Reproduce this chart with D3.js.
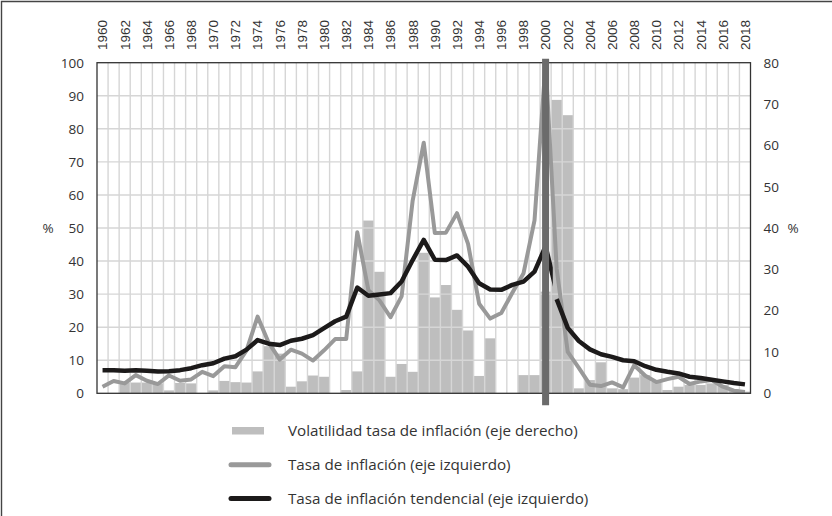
<!DOCTYPE html>
<html>
<head>
<meta charset="utf-8">
<script src="https://cdn.jsdelivr.net/npm/d3@7"></script>
<style>
  body { margin: 0; background: #fff; }
  svg { display: block; }
</style>
</head>
<body>
<svg id="chart"></svg>
<script>
// data
const years = d3.range(1960, 2019);
const yearLabels = years.filter(y => y % 2 === 0);

// tasa de inflación (eje izquierdo, %)
const inflation = [
  2.0, 3.7, 3.0, 5.5, 3.8, 2.8, 5.4, 3.8, 4.2, 6.5,
  5.2, 8.2, 7.9, 13.0, 23.2, 15.3, 10.2, 13.2, 12.0, 9.9,
  13.0, 16.4, 16.4, 48.7, 31.2, 28.1, 23.0, 29.3, 58.3, 75.8,
  48.5, 48.6, 54.5, 45.2, 27.1, 22.6, 24.3, 30.4, 36.2, 52.3,
  100, 37.7, 12.5, 7.7, 2.6, 2.2, 3.3, 1.8, 8.5, 5.3,
  3.4, 4.3, 5.0, 2.8, 3.6, 4.0, 2.0, 0.8, 0.4
];

// tasa de inflación tendencial: two pieces, before and after dollarisation
const trendYearsA = d3.range(1960, 2002);
const trendA = [
  7.0, 7.0, 6.8, 7.0, 6.8, 6.6, 6.7, 7.0, 7.6, 8.5,
  9.1, 10.5, 11.2, 13.2, 16.1, 15.0, 14.6, 15.9, 16.5, 17.6,
  19.7, 21.8, 23.2, 32.0, 29.5, 29.9, 30.3, 33.8, 40.3, 46.4,
  40.4, 40.3, 41.7, 38.3, 33.3, 31.4, 31.3, 32.8, 33.8, 36.8,
  44.5, 30.5
];
const trendYearsB = d3.range(2001, 2019);
const trendB = [
  28.5, 19.8, 15.8, 13.3, 11.8, 11.0, 10.0, 9.7, 8.2, 7.1,
  6.5, 6.0, 5.0, 4.6, 4.1, 3.6, 3.1, 2.7
];

// volatilidad tasa de inflación (eje derecho)
const volatility = [
  0, 0, 2.6, 2.6, 2.6, 2.4, 0.7, 2.5, 2.4, 0,
  0.7, 3.0, 2.7, 2.6, 5.3, 11.4, 9.6, 1.6, 2.9, 4.3,
  4.0, 0, 0.8, 5.3, 41.8, 29.4, 4.0, 7.1, 5.2, 34.0,
  23.2, 26.2, 20.2, 15.2, 4.2, 13.3, 0, 0, 4.4, 4.4,
  24.6, 71.0, 67.3, 1.2, 3.2, 7.5, 1.2, 1.0, 3.8, 4.4,
  2.8, 0.8, 1.6, 2.0, 2.0, 2.4, 2.0, 1.0, 0.4
];

const leftTicks = d3.range(0, 101, 10);
const rightTicks = d3.range(0, 81, 10);
const breakYear = 2000;

const legendItems = [
  { label: 'Volatilidad tasa de inflación (eje derecho)', type: 'bar' },
  { label: 'Tasa de inflación (eje izquierdo)', type: 'grey' },
  { label: 'Tasa de inflación tendencial (eje izquierdo)', type: 'black' }
];

const width = 832;
const height = 516;
const plot = { left: 97, right: 750.5, top: 62.7, bottom: 393.3 };
const numFont = '"Open Sans", "Noto Sans", sans-serif';
const yearFont = '"Liberation Sans", Arial, sans-serif';
const barColor = '#bebebe';
const greyColor = '#999999';
const blackColor = '#1c1a1a';

const svg = d3.select('#chart')
  .attr('width', width)
  .attr('height', height);

// outer frame (top and left edge only)
svg.append('path')
  .attr('d', `M1.5,${height} V1.5 H${width}`)
  .attr('fill', 'none')
  .attr('stroke', '#444')
  .attr('stroke-width', 1.4);

const x = d3.scaleBand()
  .domain(years)
  .range([plot.left, plot.right])
  .padding(0);
const xc = yr => x(yr) + x.bandwidth() / 2;

const yLeft = d3.scaleLinear().domain([0, 100]).range([plot.bottom, plot.top]);
const yRight = d3.scaleLinear().domain([0, 80]).range([plot.bottom, plot.top]);

// bars
svg.append('g')
  .selectAll('rect')
  .data(years.map((yr, i) => ({ yr, v: volatility[i] })))
  .join('rect')
  .attr('x', d => x(d.yr))
  .attr('width', x.bandwidth())
  .attr('y', d => yRight(d.v))
  .attr('height', d => yRight(0) - yRight(d.v))
  .attr('fill', barColor);

// grid drawn over the bars
const grid = svg.append('g')
  .attr('stroke', '#d6d6d6')
  .attr('stroke-width', 1.4);
grid.selectAll('line.v')
  .data(years.slice(1))
  .join('line')
  .attr('class', 'v')
  .attr('x1', d => x(d)).attr('x2', d => x(d))
  .attr('y1', plot.top).attr('y2', plot.bottom);
grid.selectAll('line.h')
  .data(leftTicks.slice(1, -1))
  .join('line')
  .attr('class', 'h')
  .attr('x1', plot.left).attr('x2', plot.right)
  .attr('y1', d => yLeft(d)).attr('y2', d => yLeft(d));

// clip for the first trend piece so it stops short of 2001
const clipEdge = xc(2001) - x.bandwidth() * 0.35;
svg.append('clipPath')
  .attr('id', 'clipA')
  .append('rect')
  .attr('x', 0).attr('y', 0)
  .attr('width', clipEdge)
  .attr('height', height);

const line = d3.line()
  .x(d => xc(d[0]))
  .y(d => yLeft(d[1]));

svg.append('path')
  .datum(d3.zip(years, inflation))
  .attr('d', line)
  .attr('fill', 'none')
  .attr('stroke', greyColor)
  .attr('stroke-width', 4)
  .attr('stroke-linejoin', 'round');

svg.append('path')
  .datum(d3.zip(trendYearsA, trendA))
  .attr('d', line)
  .attr('clip-path', 'url(#clipA)')
  .attr('fill', 'none')
  .attr('stroke', blackColor)
  .attr('stroke-width', 4.5)
  .attr('stroke-linejoin', 'round');

svg.append('path')
  .datum(d3.zip(trendYearsB, trendB))
  .attr('d', line)
  .attr('fill', 'none')
  .attr('stroke', blackColor)
  .attr('stroke-width', 4.5)
  .attr('stroke-linejoin', 'round');

// plot border
svg.append('rect')
  .attr('x', plot.left).attr('y', plot.top)
  .attr('width', plot.right - plot.left)
  .attr('height', plot.bottom - plot.top)
  .attr('fill', 'none')
  .attr('stroke', '#333')
  .attr('stroke-width', 1.3);

// vertical marker at 2000
svg.append('line')
  .attr('x1', xc(breakYear)).attr('x2', xc(breakYear))
  .attr('y1', plot.top - 4).attr('y2', plot.bottom + 12)
  .attr('stroke', '#6b6b6b')
  .attr('stroke-width', 7);

// top axis: rotated year labels
svg.append('g')
  .selectAll('text')
  .data(yearLabels)
  .join('text')
  .attr('transform', d => `translate(${xc(d)},50) rotate(-90)`)
  .attr('dy', '0.36em')
  .attr('font-family', yearFont)
  .attr('font-size', 13.5)
  .attr('fill', '#333')
  .text(d => d);

// left axis
const axisL = d3.axisLeft(yLeft).tickValues(leftTicks).tickSize(0).tickPadding(13);
const gL = svg.append('g')
  .attr('transform', `translate(${plot.left},0)`)
  .call(axisL);
gL.select('.domain').remove();
gL.selectAll('text')
  .attr('font-family', numFont)
  .attr('font-size', 13.5)
  .attr('fill', '#333');

// right axis
const axisR = d3.axisRight(yRight).tickValues(rightTicks).tickSize(0).tickPadding(13);
const gR = svg.append('g')
  .attr('transform', `translate(${plot.right},0)`)
  .call(axisR);
gR.select('.domain').remove();
gR.selectAll('text')
  .attr('font-family', numFont)
  .attr('font-size', 13.5)
  .attr('fill', '#333');

// % unit labels
svg.append('text')
  .attr('x', 48).attr('y', yLeft(50)).attr('dy', '0.35em')
  .attr('text-anchor', 'middle')
  .attr('font-family', numFont).attr('font-size', 13.5).attr('fill', '#333')
  .text('%');
svg.append('text')
  .attr('x', 793).attr('y', yRight(40)).attr('dy', '0.35em')
  .attr('text-anchor', 'middle')
  .attr('font-family', numFont).attr('font-size', 13.5).attr('fill', '#333')
  .text('%');

// legend
const legend = svg.append('g').attr('transform', 'translate(231,431)');
const item = legend.selectAll('g')
  .data(legendItems)
  .join('g')
  .attr('transform', (d, i) => `translate(0,${i * 33.7})`);
item.filter(d => d.type === 'bar').append('rect')
  .attr('x', 1).attr('y', -4).attr('width', 32).attr('height', 7.5)
  .attr('fill', barColor);
item.filter(d => d.type !== 'bar').append('line')
  .attr('x1', 0).attr('x2', 38)
  .attr('stroke', d => d.type === 'grey' ? greyColor : blackColor)
  .attr('stroke-width', 5)
  .attr('stroke-linecap', 'round');
item.append('text')
  .attr('x', 57).attr('dy', '0.35em')
  .attr('font-family', numFont)
  .attr('font-size', 15.2)
  .attr('fill', '#333')
  .text(d => d.label);
</script>
</body>
</html>
